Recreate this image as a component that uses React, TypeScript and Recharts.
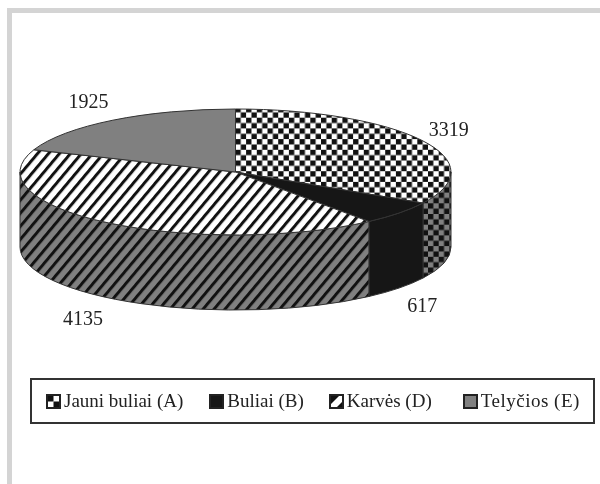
import { Cell, Legend, Pie, PieChart } from "recharts";

const CATEGORIES = ["Jauni buliai (A)", "Buliai (B)", "Karvės (D)", "Telyčios (E)"];
const VALUES = [3319, 617, 4135, 1925];

const TOP_FILLS = ["url(#checkTop)", "#161616", "url(#hatchTop)", "#808080"];
const WALL_FILLS = ["url(#checkWall)", "#161616", "url(#hatchWall)", "#808080"];
const LEGEND_GAPS = [26, 25, 31, 0];

const rows = CATEGORIES.map((name, i) => ({ name, value: VALUES[i] }));

const SQUASH = 63 / 215.5;
const DEPTH = 75;
const FONT = "'Liberation Serif', serif";
const RAD = Math.PI / 180;

function Slice(props: any) {
  const { cx, cy, outerRadius: rx, startAngle, endAngle, name, fill } = props;
  const ry = rx * SQUASH;
  const px = (a: number) => cx + rx * Math.cos(a * RAD);
  const py = (a: number) => cy - ry * Math.sin(a * RAD);
  const large = Math.abs(startAngle - endAngle) > 180 ? 1 : 0;
  const top = `M${cx},${cy}L${px(startAngle)},${py(startAngle)}A${rx},${ry} 0 ${large} 1 ${px(endAngle)},${py(endAngle)}Z`;

  // only the front half of the rim has a visible wall
  const hi = Math.min(startAngle, 0);
  const lo = Math.max(endAngle, -180);
  const wall =
    hi > lo
      ? `M${px(hi)},${py(hi)}A${rx},${ry} 0 0 1 ${px(lo)},${py(lo)}L${px(lo)},${py(lo) + DEPTH}A${rx},${ry} 0 0 0 ${px(hi)},${py(hi) + DEPTH}Z`
      : null;

  return (
    <g>
      {wall && <path d={wall} fill={WALL_FILLS[CATEGORIES.indexOf(name)]} stroke="#333" strokeWidth={1} />}
      <path d={top} fill={fill} stroke="#333" strokeWidth={1} />
    </g>
  );
}

function SliceLabel(props: any) {
  const { cx, cy, midAngle, outerRadius, value } = props;
  const s = Math.sin(midAngle * RAD);
  const x = cx - 4 + (outerRadius + 36) * Math.cos(midAngle * RAD);
  const y = cy + 1 - (outerRadius * SQUASH + 24) * s + (s < 0 ? DEPTH : 0);
  return (
    <text x={x} y={y} textAnchor="middle" dominantBaseline="central" fontFamily={FONT} fontSize={20} fill="#222">
      {value}
    </text>
  );
}

function Swatch({ index }: { index: number }) {
  return (
    <svg width={15} height={15} style={{ display: "block", flexShrink: 0 }}>
      <rect x={1} y={1} width={13} height={13} fill={index === 3 ? "#808080" : index === 1 ? "#161616" : "#fff"} stroke="#222" strokeWidth={2} />
      {index === 0 && (
        <>
          <rect x={2} y={2} width={5.5} height={5.5} fill="#111" />
          <rect x={7.5} y={7.5} width={5.5} height={5.5} fill="#111" />
        </>
      )}
      {index === 2 && (
        <>
          <polygon points="2,2 10,2 2,10" fill="#111" />
          <polygon points="13,13 13,8 8,13" fill="#111" />
        </>
      )}
    </svg>
  );
}

function LegendBox() {
  return (
    <div
      style={{
        boxSizing: "border-box",
        width: 565,
        height: 46,
        border: "2px solid #333",
        display: "flex",
        alignItems: "center",
        paddingLeft: 14,
        background: "#fff",
        fontFamily: FONT,
        fontSize: 19,
        color: "#222",
        whiteSpace: "nowrap",
      }}
    >
      {CATEGORIES.map((name, i) => (
        <span
          key={name}
          style={{ display: "flex", alignItems: "center", gap: 3, marginRight: LEGEND_GAPS[i], letterSpacing: i === 3 ? 0.5 : 0 }}
        >
          <Swatch index={i} />
          {name}
        </span>
      ))}
    </div>
  );
}

export default function App() {
  return (
    <div style={{ position: "absolute", left: 0, top: 0, width: 600, height: 484, background: "#fff", overflow: "hidden", filter: "blur(0.45px)" }}>
      <div
        style={{
          position: "absolute",
          left: 7,
          top: 8,
          width: 600,
          height: 484,
          borderLeft: "5px solid #d4d4d4",
          borderTop: "5px solid #d4d4d4",
        }}
      />
      <div style={{ position: "absolute", left: 0, top: 0 }}>
        <PieChart width={600} height={484} margin={{ top: 0, right: 0, bottom: 0, left: 0 }}>
          <defs>
            <pattern id="checkTop" width={10.7} height={10.7} patternUnits="userSpaceOnUse">
              <rect width={10.7} height={10.7} fill="#fff" />
              <rect width={5.35} height={5.35} fill="#111" />
              <rect x={5.35} y={5.35} width={5.35} height={5.35} fill="#111" />
            </pattern>
            <pattern id="checkWall" width={10.7} height={10.7} patternUnits="userSpaceOnUse">
              <rect width={10.7} height={10.7} fill="#808080" />
              <rect width={5.35} height={5.35} fill="#111" />
              <rect x={5.35} y={5.35} width={5.35} height={5.35} fill="#111" />
            </pattern>
            <pattern id="hatchTop" width={8.4} height={8.4} patternUnits="userSpaceOnUse" patternTransform="rotate(40)">
              <rect width={8.4} height={8.4} fill="#fff" />
              <rect width={3} height={8.4} fill="#111" />
            </pattern>
            <pattern id="hatchWall" width={8.4} height={8.4} patternUnits="userSpaceOnUse" patternTransform="rotate(40)">
              <rect width={8.4} height={8.4} fill="#808080" />
              <rect width={3} height={8.4} fill="#111" />
            </pattern>
          </defs>
          <Pie
            data={rows}
            dataKey="value"
            nameKey="name"
            cx={235.5}
            cy={172}
            innerRadius={0}
            outerRadius={215.5}
            startAngle={90}
            endAngle={-270}
            shape={Slice}
            label={SliceLabel}
            labelLine={false}
            isAnimationActive={false}
          >
            {rows.map((r, i) => (
              <Cell key={r.name} fill={TOP_FILLS[i]} />
            ))}
          </Pie>
          <Legend content={LegendBox} wrapperStyle={{ position: "absolute", left: 30, top: 378, bottom: "auto", width: 565, height: 46 }} />
        </PieChart>
      </div>
    </div>
  );
}
